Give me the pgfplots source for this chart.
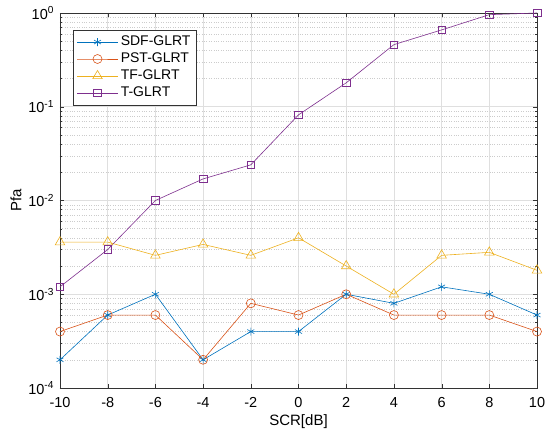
\documentclass[border=0pt]{standalone}
\usepackage{pgfplots}
\pgfplotsset{compat=1.18}
\usepackage{fontspec}
\setmainfont{Liberation Sans}
\definecolor{c1}{rgb}{0,0.447,0.741}
\definecolor{c2}{rgb}{0.85,0.325,0.098}
\definecolor{c3}{rgb}{0.929,0.694,0.125}
\definecolor{c4}{rgb}{0.494,0.184,0.556}
\begin{document}
\fontsize{14.5}{17}\selectfont
\begin{tikzpicture}
\begin{axis}[
  scale only axis, width=477pt, height=375pt,
  ymode=log, xmin=-10, xmax=10, ymin=1e-4, ymax=1,
  xtick={-10,-8,...,10},
  ytick={1e-4,1e-3,1e-2,1e-1,1},
  yticklabels={10\textsuperscript{-4},10\textsuperscript{-3},10\textsuperscript{-2},10\textsuperscript{-1},10\textsuperscript{0}},
  /pgf/number format/assume math mode=true,
  tick label style={font=\fontsize{14.5}{17}\selectfont},
  xticklabel style={yshift=-4pt},
  yticklabel style={xshift=-1pt},
  label style={font=\fontsize{15}{18}\selectfont},
  xlabel={SCR[dB]}, ylabel={Pfa},
  xlabel style={yshift=3pt}, ylabel style={yshift=-3pt},
  grid=both,
  major grid style={gray!25, line width=0.5pt},
  minor grid style={gray!40, dotted, line width=0.5pt},
  tick align=inside, axis line style={black!80},
  major tick length=4pt, minor tick length=2pt,
  tick style={black!80},
  every axis plot/.append style={line width=0.6pt},
  legend style={at={(rel axis cs:0.0273,0.955)}, anchor=north west, draw=black!80, font=\fontsize{14}{16}\selectfont, row sep=0pt, inner sep=3.5pt,
    nodes={inner sep=2.5pt}},
  legend image code/.code={\draw[mark repeat=2,mark phase=2] plot coordinates {(0cm,0cm) (0.72cm,0cm) (1.44cm,0cm)};},
  legend cell align=left,
]
\addplot[c1, mark=asterisk, mark size=4pt] coordinates {(-10,2e-4)(-8,6e-4)(-6,1e-3)(-4,2e-4)(-2,4e-4)(0,4e-4)(2,1e-3)(4,8e-4)(6,1.2e-3)(8,1e-3)(10,6e-4)};
\addlegendentry{SDF-GLRT}
\addplot[c2, mark=o, mark size=4.5pt] coordinates {(-10,4e-4)(-8,6e-4)(-6,6e-4)(-4,2e-4)(-2,8e-4)(0,6e-4)(2,1e-3)(4,6e-4)(6,6e-4)(8,6e-4)(10,4e-4)};
\addlegendentry{PST-GLRT}
\addplot[c3, mark=triangle, mark size=5.5pt] coordinates {(-10,3.6e-3)(-8,3.6e-3)(-6,2.6e-3)(-4,3.4e-3)(-2,2.6e-3)(0,4e-3)(2,2e-3)(4,1e-3)(6,2.6e-3)(8,2.8e-3)(10,1.8e-3)};
\addlegendentry{TF-GLRT}
\addplot[c4, mark=square, mark size=3.8pt] coordinates {(-10,1.2e-3)(-8,3e-3)(-6,1e-2)(-4,1.7e-2)(-2,2.4e-2)(0,8.2e-2)(2,0.18)(4,0.46)(6,0.66)(8,0.96)(10,1.0)};
\addlegendentry{T-GLRT}
\end{axis}
\pgfresetboundingbox
\path ([xshift=-60pt,yshift=-52pt]current axis.south west) rectangle ([xshift=13pt,yshift=13pt]current axis.north east);
\end{tikzpicture}
\end{document}
